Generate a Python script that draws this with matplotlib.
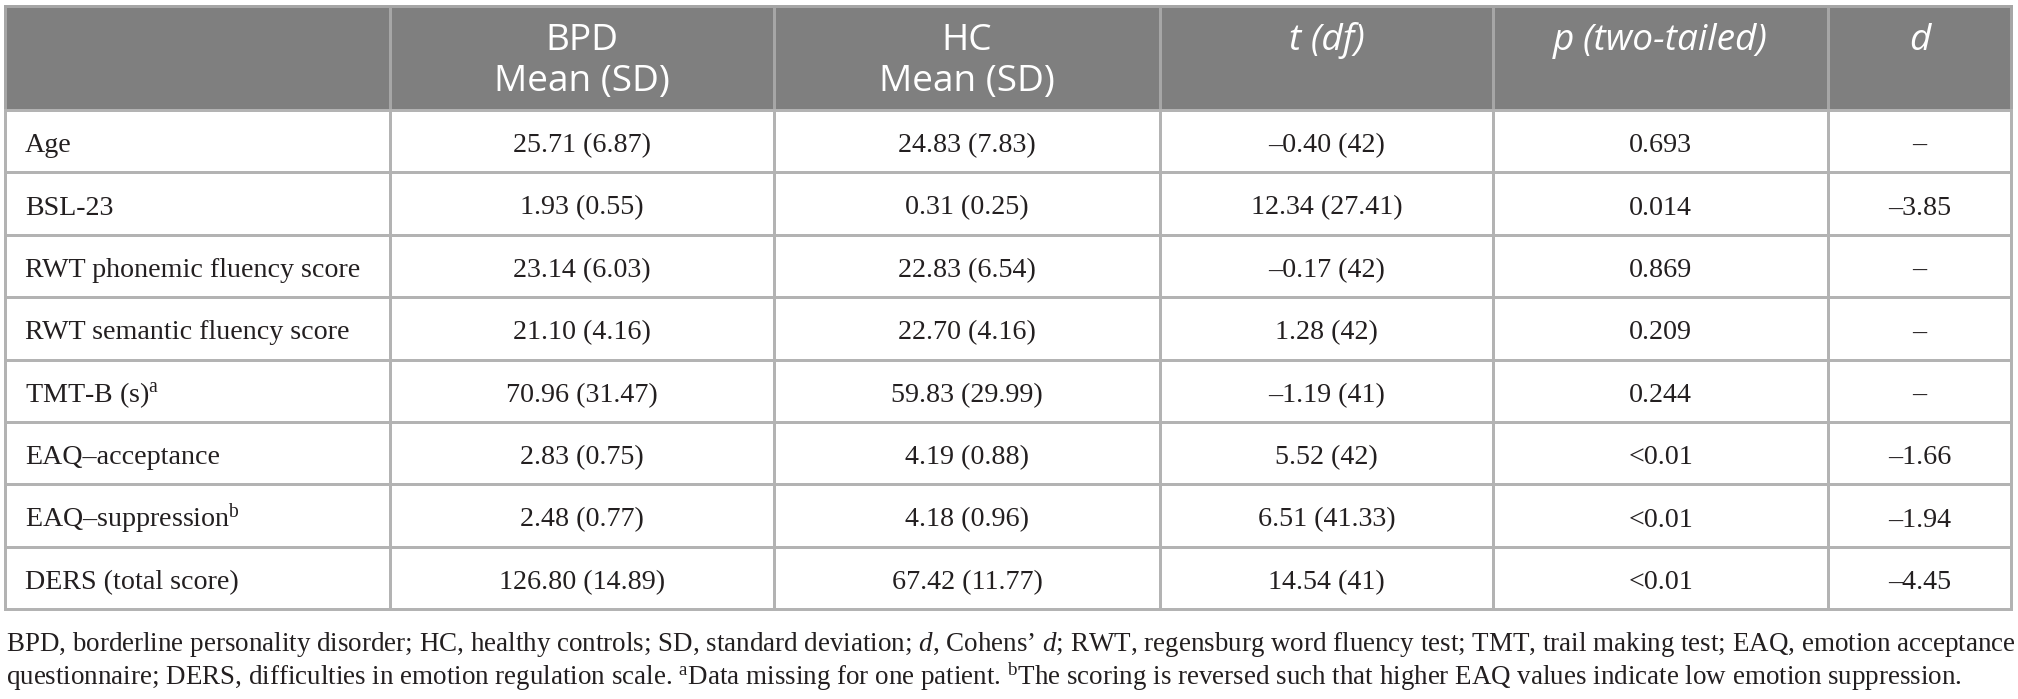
"""
plot.py -- descriptive statistics table (BPD vs HC) redrawn with matplotlib.

Draws the table on a pixel-sized axes so column edges and row heights can be
set directly in image units.
"""

import matplotlib as mpl
import matplotlib.pyplot as plt
from matplotlib.patches import Rectangle

# ----------------------------------------------------------------------------
# Table content
# ----------------------------------------------------------------------------
HEADERS = ["", "BPD\nMean (SD)", "HC\nMean (SD)", "t (df)", "p (two-tailed)", "d"]
HEADER_ITALIC = [False, False, False, True, True, True]

ROW_LABELS = [
    "Age",
    "BSL-23",
    "RWT phonemic fluency score",
    "RWT semantic fluency score",
    r"TMT-B (s)$^{\mathrm{a}}$",
    "EAQ–acceptance",
    r"EAQ–suppression$^{\mathrm{b}}$",
    "DERS (total score)",
]
BPD_MEAN_SD = ["25.71 (6.87)", "1.93 (0.55)", "23.14 (6.03)", "21.10 (4.16)",
               "70.96 (31.47)", "2.83 (0.75)", "2.48 (0.77)", "126.80 (14.89)"]
HC_MEAN_SD = ["24.83 (7.83)", "0.31 (0.25)", "22.83 (6.54)", "22.70 (4.16)",
              "59.83 (29.99)", "4.19 (0.88)", "4.18 (0.96)", "67.42 (11.77)"]
T_DF = ["–0.40 (42)", "12.34 (27.41)", "–0.17 (42)", "1.28 (42)",
        "–1.19 (41)", "5.52 (42)", "6.51 (41.33)", "14.54 (41)"]
P_TWO_TAILED = ["0.693", "0.014", "0.869", "0.209", "0.244", "<0.01", "<0.01", "<0.01"]
COHENS_D = ["–", "–3.85", "–", "–", "–", "–1.66", "–1.94", "–4.45"]

FOOTNOTE = [
    r"BPD, borderline personality disorder; HC, healthy controls; SD, standard "
    r"deviation; $\mathit{d}$, Cohens’ $\mathit{d}$; RWT, regensburg word fluency "
    r"test; TMT, trail making test; EAQ, emotion acceptance",
    r"questionnaire; DERS, difficulties in emotion regulation scale. "
    r"$^{\mathrm{a}}$Data missing for one patient. $^{\mathrm{b}}$The scoring is "
    r"reversed such that higher EAQ values indicate low emotion suppression.",
]

# ----------------------------------------------------------------------------
# Layout (pixels, y grows downward)
# ----------------------------------------------------------------------------
W, H, DPI = 2018, 699, 100
COL_EDGES = [5, 390, 774, 1160, 1493, 1828, 2011]
TABLE_TOP = 6
HEADER_BOTTOM = 110
ROW_H = 62.4
PAD_LEFT = 20

HEADER_BG = "#7f7f7f"
GRID = "#b3b3b3"
HEADER_SEP = "#a6a6a6"
TEXT = "#231f20"

HEADER_FONT = "Open Sans"
BODY_FONT = "Liberation Serif"
PX = 72 / DPI  # pixels -> points

mpl.rcParams.update({
    "mathtext.fontset": "custom",
    "mathtext.rm": BODY_FONT,
    "mathtext.it": BODY_FONT + ":italic",
})


def main():
    fig = plt.figure(figsize=(W / DPI, H / DPI), dpi=DPI)
    ax = fig.add_axes([0, 0, 1, 1])
    ax.set_xlim(0, W)
    ax.set_ylim(H, 0)
    ax.axis("off")

    n_rows = len(ROW_LABELS)
    row_edges = [HEADER_BOTTOM + i * ROW_H for i in range(n_rows + 1)]
    left, right = COL_EDGES[0], COL_EDGES[-1]

    # header band
    ax.add_patch(Rectangle((left, TABLE_TOP), right - left, HEADER_BOTTOM - TABLE_TOP,
                           facecolor=HEADER_BG, edgecolor="none", zorder=1))

    # grid: header separators are lighter on the gray band
    lw = 3 * PX
    for x in COL_EDGES:
        ax.plot([x, x], [TABLE_TOP, HEADER_BOTTOM], color=HEADER_SEP, lw=lw, zorder=2,
                solid_capstyle="butt")
        ax.plot([x, x], [HEADER_BOTTOM, row_edges[-1]], color=GRID, lw=lw, zorder=2,
                solid_capstyle="butt")
    ax.plot([left, right], [TABLE_TOP, TABLE_TOP], color=HEADER_SEP, lw=lw, zorder=2)
    for y in row_edges:
        ax.plot([left, right], [y, y], color=GRID, lw=lw, zorder=2)

    # header text, lines placed one by one so the spacing is exact
    head_size = 37 * PX
    for j, label in enumerate(HEADERS):
        cx = (COL_EDGES[j] + COL_EDGES[j + 1]) / 2
        for k, line in enumerate(label.split("\n")):
            if not line:
                continue
            ax.text(cx, 50 + k * 41, line, ha="center", va="baseline",
                    fontsize=head_size, family=HEADER_FONT, color="white",
                    style="italic" if HEADER_ITALIC[j] else "normal", zorder=3)

    # body cells
    body_size = 28 * PX
    columns = [ROW_LABELS, BPD_MEAN_SD, HC_MEAN_SD, T_DF, P_TWO_TAILED, COHENS_D]
    for i in range(n_rows):
        base = (row_edges[i] + row_edges[i + 1]) / 2 + 11
        for j, col in enumerate(columns):
            if j == 0:
                x, ha = COL_EDGES[0] + PAD_LEFT, "left"
            else:
                x, ha = (COL_EDGES[j] + COL_EDGES[j + 1]) / 2, "center"
            ax.text(x, base, col[i], ha=ha, va="baseline", fontsize=body_size,
                    family=BODY_FONT, color=TEXT, zorder=3)

    # footnote
    foot_size = 27 * PX
    for k, line in enumerate(FOOTNOTE):
        ax.text(6, 651 + k * 34, line, ha="left", va="baseline", fontsize=foot_size,
                family=BODY_FONT, color=TEXT)

    fig.savefig("out.png", dpi=DPI)
    plt.close(fig)


if __name__ == "__main__":
    main()
